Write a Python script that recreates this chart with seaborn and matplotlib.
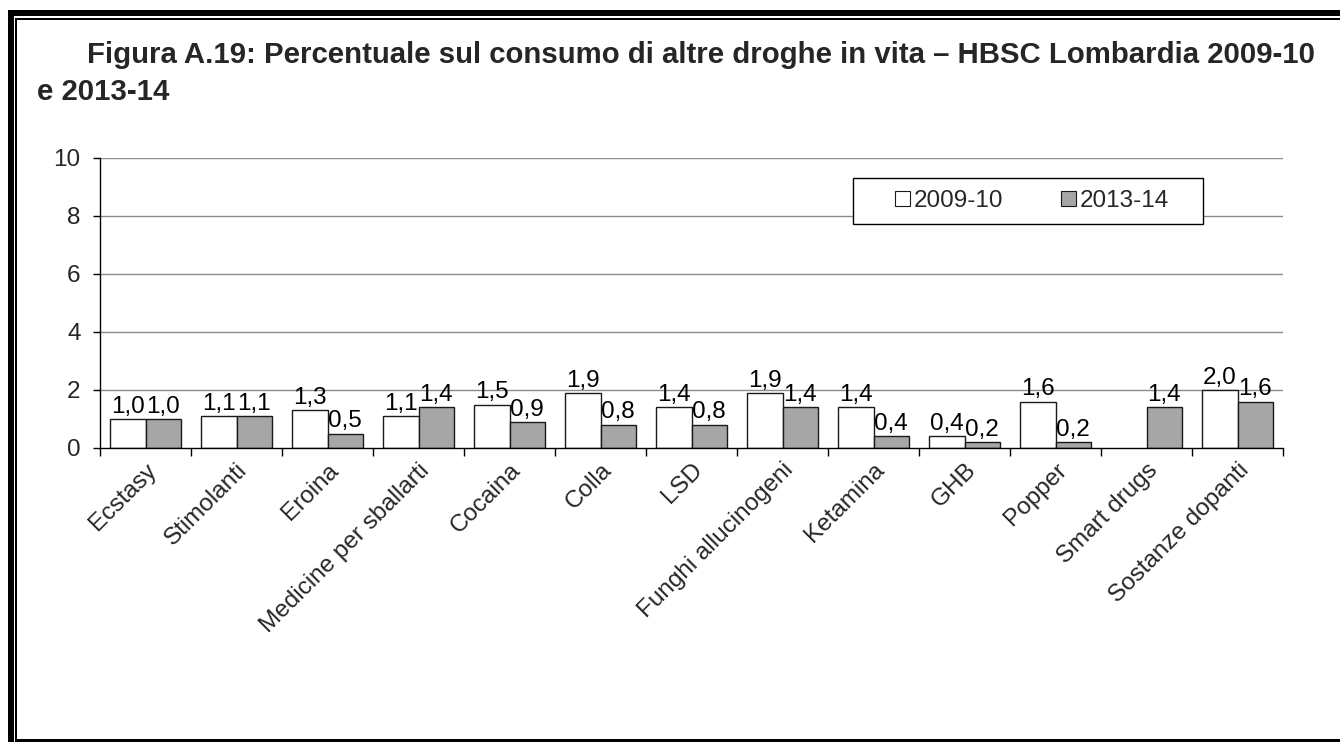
import numpy as np
import pandas as pd
import matplotlib
matplotlib.use("Agg")
import matplotlib.pyplot as plt
from matplotlib.patches import Rectangle, Patch
from matplotlib.ticker import FixedLocator
import seaborn as sns

# Lifetime use of other drugs (%), HBSC Lombardia
categories = ["Ecstasy", "Stimolanti", "Eroina", "Medicine per sballarti", "Cocaina",
              "Colla", "LSD", "Funghi allucinogeni", "Ketamina", "GHB", "Popper",
              "Smart drugs", "Sostanze dopanti"]
series_names = ["2009-10", "2013-14"]
values_2009 = [1.0, 1.1, 1.3, 1.1, 1.5, 1.9, 1.4, 1.9, 1.4, 0.4, 1.6, np.nan, 2.0]
values_2013 = [1.0, 1.1, 0.5, 1.4, 0.9, 0.8, 0.8, 1.4, 0.4, 0.2, 0.2, 1.4, 1.6]
y_ticks = [0, 2, 4, 6, 8, 10]

title_line1 = "Figura A.19: Percentuale sul consumo di altre droghe in vita \u2013 HBSC Lombardia 2009-10"
title_line2 = "e 2013-14"

df = pd.DataFrame({
    "Sostanza": categories * 2,
    "Periodo": [series_names[0]] * len(categories) + [series_names[1]] * len(categories),
    "Valore": values_2009 + values_2013,
})

sns.set_theme(style="white")
plt.rcParams["font.family"] = ["Liberation Sans", "DejaVu Sans"]

FS = 17.5       # axis / label text size
FS_TITLE = 21.2 # title size

W, H = 1340, 742
fig = plt.figure(figsize=(W / 100, H / 100), dpi=100)
fig.patch.set_facecolor("white")

def fx(x):
    return x / W

def fy(y):
    return 1 - y / H

ax = fig.add_axes([fx(100), fy(448), fx(1283) - fx(100), fy(158) - fy(448)])

palette = {series_names[0]: "#FFFFFF", series_names[1]: "#A6A6A6"}
sns.barplot(data=df, x="Sostanza", y="Valore", hue="Periodo", order=categories,
            hue_order=series_names, palette=palette, width=0.77, gap=0,
            edgecolor="#1a1a1a", linewidth=1.0, saturation=1, legend=False, ax=ax)

ax.set_xlim(-0.5, len(categories) - 0.5)
ax.set_ylim(0, 10)
ax.set_yticks(y_ticks)
ax.set_yticklabels([str(t) for t in y_ticks], fontsize=FS)
ax.set_xlabel("")
ax.set_ylabel("")

# horizontal gridlines
for t in y_ticks[1:]:
    ax.axhline(t, color="#8c8c8c", lw=1.0, zorder=0)

for s in ["top", "right"]:
    ax.spines[s].set_visible(False)
for s in ["left", "bottom"]:
    ax.spines[s].set_color("black")
    ax.spines[s].set_linewidth(1.0)

ax.tick_params(axis="y", direction="out", length=5, width=1, color="black", pad=9, left=True)
ax.tick_params(axis="x", which="major", length=0, pad=8)
ax.xaxis.set_minor_locator(FixedLocator(np.arange(-0.5, len(categories), 1.0)))
ax.tick_params(axis="x", which="minor", direction="out", length=6, width=1, color="black", bottom=True)

ax.set_xticks(range(len(categories)))
ax.set_xticklabels(categories, rotation=45, ha="right", rotation_mode="anchor", fontsize=FS)

# value labels with decimal comma
for cont in ax.containers:
    labels = []
    for b in cont:
        h = b.get_height()
        labels.append("" if (h is None or np.isnan(h)) else f"{h:.1f}".replace(".", ","))
    ax.bar_label(cont, labels=labels, padding=1, fontsize=FS, color="black")

# legend inside a framed box
handles = [Patch(facecolor=palette[n], edgecolor="#1a1a1a", linewidth=0.8) for n in series_names]
leg = ax.legend(handles, series_names, ncol=2, loc="center",
                bbox_to_anchor=((1032 - 100) / 1183, (448 - 201) / 290),
                frameon=False, fontsize=FS, handlelength=0.6, handleheight=0.6,
                handletextpad=0.15, columnspacing=2.4)
ax.add_patch(Rectangle(((853 - 100) / 1183, (448 - 224) / 290), 350 / 1183, 46 / 290,
                       transform=ax.transAxes, facecolor="white", edgecolor="black",
                       lw=1.0, zorder=4))
leg.set_zorder(5)

# title
fig.text(fx(87), fy(63), title_line1, fontsize=FS_TITLE, fontweight="bold", ha="left", va="baseline")
fig.text(fx(37), fy(100), title_line2, fontsize=FS_TITLE, fontweight="bold", ha="left", va="baseline")

# page frame: thick outer and thin inner lines
frame = [
    (8, 10, W - 8, 6),      # top thick
    (16, 18, W - 16, 2),    # top thin
    (8, 10, 6, H - 10),     # left thick
    (15, 18, 2, H - 18),    # left thin
    (15, 739, W - 15, 3),   # bottom
]
for x, y, w, h in frame:
    fig.patches.append(Rectangle((fx(x), fy(y + h)), w / W, h / H, transform=fig.transFigure,
                                 facecolor="black", edgecolor="none"))

fig.savefig("out.png", dpi=100)
